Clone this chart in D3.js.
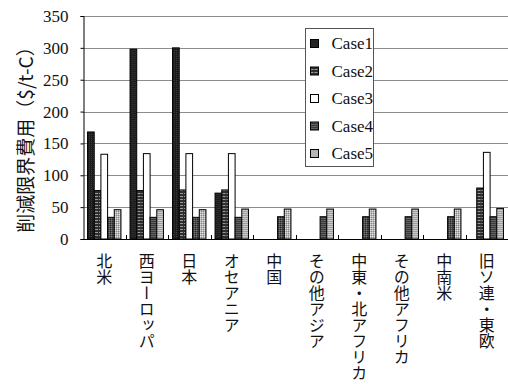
<!DOCTYPE html>
<html>
<head>
<meta charset="utf-8">
<script src="https://cdn.jsdelivr.net/npm/d3@7"></script>
<style>
  html, body { margin: 0; padding: 0; background: #fff; }
  svg { display: block; }
</style>
</head>
<body>
<svg id="chart" width="508" height="384"></svg>
<script>
// Regions along the x axis
const categories = ['北米', '西ヨーロッパ', '日本', 'オセアニア', '中国', 'その他アジア', '中東・北アフリカ', 'その他アフリカ', '中南米', '旧ソ連・東欧'];
// Series names
const caseNames = ['Case1', 'Case2', 'Case3', 'Case4', 'Case5'];
// Marginal abatement cost ($/t-C) per region for each case
const case1 = [168, 298, 300, 72, 0, 0, 0, 0, 0, 0];
const case2 = [76, 76, 77, 77, 0, 0, 0, 0, 0, 80];
const case3 = [133, 134, 134, 134, 0, 0, 0, 0, 0, 136];
const case4 = [34, 34, 34, 34, 35, 35, 35, 35, 35, 35];
const case5 = [46, 46, 46, 47, 47, 47, 47, 47, 47, 48];
const yTicks = [0, 50, 100, 150, 200, 250, 300, 350];
const yTitle = '削減限界費用（$/t-C）';

const seriesValues = [case1, case2, case3, case4, case5];

const svg = d3.select('#chart');
const plot = { left: 83, right: 508, top: 16, bottom: 239 };

const x0 = d3.scaleBand().domain(categories).range([plot.left, plot.right]).padding(0);
const x1 = d3.scaleBand().domain(caseNames).range([0, x0.bandwidth()])
  .paddingInner(0).paddingOuter(0.68);
const y = d3.scaleLinear().domain([0, 350]).range([plot.bottom, plot.top]);

// Fill patterns for the five series
const defs = svg.append('defs');
function pat(id, w, h, bg, marks) {
  const p = defs.append('pattern').attr('id', id).attr('patternUnits', 'userSpaceOnUse')
    .attr('width', w).attr('height', h);
  p.append('rect').attr('width', w).attr('height', h).attr('fill', bg);
  marks.forEach(m => p.append('rect').attr('x', m[0]).attr('y', m[1])
    .attr('width', m[2]).attr('height', m[3]).attr('fill', m[4]));
  return `url(#${id})`;
}
const fills = [
  pat('p1', 2, 2, '#1c1c1c', [[0, 0, 1, 1, '#3a3a3a']]),
  pat('p2', 4, 3, '#2e2e2e', [[0, 1, 3, 1, '#9a9a9a']]),
  '#ffffff',
  pat('p4', 2, 2, '#4a4a4a', [[0, 0, 1, 1, '#7a7a7a'], [1, 1, 1, 1, '#2a2a2a']]),
  pat('p5', 2, 2, '#b4b4b4', [[0, 0, 1, 1, '#e2e2e2'], [1, 1, 1, 1, '#8a8a8a']])
];

// Horizontal gridlines
svg.append('g')
  .selectAll('line').data(yTicks.filter(t => t > 0)).join('line')
  .attr('x1', plot.left).attr('x2', plot.right)
  .attr('y1', d => Math.round(y(d)) + 0.5).attr('y2', d => Math.round(y(d)) + 0.5)
  .attr('stroke', '#8c8c8c').attr('stroke-width', 1);

// Bars
const groups = svg.append('g').selectAll('g').data(categories).join('g')
  .attr('transform', d => `translate(${x0(d)},0)`);
groups.selectAll('rect')
  .data((c, i) => caseNames.map((n, k) => ({ name: n, k, v: seriesValues[k][i] })).filter(d => d.v > 0))
  .join('rect')
  .attr('x', d => x1(d.name))
  .attr('width', x1.bandwidth())
  .attr('y', d => y(d.v))
  .attr('height', d => y(0) - y(d.v))
  .attr('fill', d => fills[d.k])
  .attr('stroke', '#000').attr('stroke-width', 1);

// Axes
const yAxis = d3.axisLeft(y).tickValues(yTicks).tickSize(3).tickPadding(12).tickFormat(d3.format('d'));
const gy = svg.append('g').attr('transform', `translate(${plot.left + 0.5},0)`).call(yAxis);
gy.select('.domain').attr('stroke', '#000');
gy.selectAll('.tick line').attr('stroke', '#000');
gy.selectAll('.tick text')
  .attr('font-family', '"Liberation Serif", "Times New Roman", serif')
  .attr('font-size', 17).attr('fill', '#111');

// Baseline and category ticks (pointing into the plot)
svg.append('line').attr('x1', plot.left).attr('x2', plot.right)
  .attr('y1', plot.bottom + 0.5).attr('y2', plot.bottom + 0.5).attr('stroke', '#000');
svg.append('g').selectAll('line').data(categories.slice(1)).join('line')
  .attr('x1', d => Math.round(x0(d)) + 0.5).attr('x2', d => Math.round(x0(d)) + 0.5)
  .attr('y1', plot.bottom - 4).attr('y2', plot.bottom)
  .attr('stroke', '#000');

// Vertical category labels
svg.append('g').selectAll('text').data(categories).join('text')
  .attr('x', d => x0(d) + x0.bandwidth() / 2)
  .attr('y', 253)
  .attr('font-family', '"Noto Sans CJK JP", sans-serif')
  .attr('font-size', 16)
  .attr('fill', '#111')
  .style('writing-mode', 'vertical-rl')
  .style('text-orientation', 'upright')
  .text(d => d);

// Y axis title
svg.append('text')
  .attr('transform', 'translate(33,135) rotate(-90)')
  .attr('text-anchor', 'middle')
  .attr('font-family', '"Noto Sans CJK JP", sans-serif')
  .attr('font-size', 19)
  .attr('fill', '#111')
  .text(yTitle);

// Legend
const legend = svg.append('g').attr('transform', 'translate(305.5,28.5)');
legend.append('rect').attr('width', 68).attr('height', 138)
  .attr('fill', '#fff').attr('stroke', '#555').attr('stroke-width', 1);
const items = legend.selectAll('g').data(caseNames).join('g')
  .attr('transform', (d, i) => `translate(5,${15 + i * 27.5})`);
items.append('rect').attr('x', 0).attr('y', -4).attr('width', 8).attr('height', 8)
  .attr('fill', (d, i) => fills[i]).attr('stroke', '#000');
items.append('text').attr('x', 21).attr('y', 5.5)
  .attr('font-family', '"Liberation Serif", "Times New Roman", serif')
  .attr('font-size', 17).attr('fill', '#111')
  .text(d => d);
</script>
</body>
</html>
